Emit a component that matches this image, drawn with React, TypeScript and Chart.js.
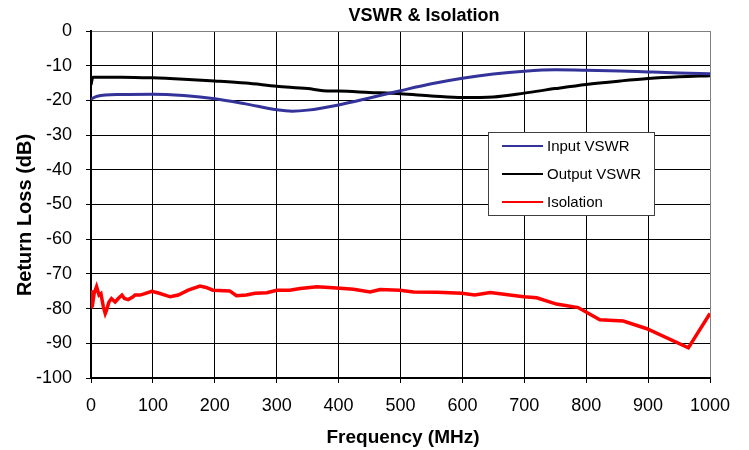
import React, { useEffect, useRef } from "react";
import { Chart, registerables } from "chart.js";

Chart.register(...registerables);

const chartTitle = "VSWR & Isolation";
const xAxisTitle = "Frequency (MHz)";
const yAxisTitle = "Return Loss (dB)";
const seriesNames = ["Input VSWR", "Output VSWR", "Isolation"];

const inputFreq = [0, 10, 50, 100, 150, 200, 250, 300, 325, 350, 400, 450, 500, 550, 600, 650, 700, 750, 800, 855, 900, 950, 1000];
const inputVals = [-19.6, -18.8, -18.3, -18.2, -18.6, -19.5, -21.0, -22.7, -23.1, -22.8, -21.3, -19.3, -17.2, -15.2, -13.6, -12.4, -11.6, -11.2, -11.3, -11.5, -11.8, -12.1, -12.3];

const outputFreq = [0, 3, 50, 100, 150, 200, 250, 300, 350, 375, 400, 450, 500, 550, 600, 650, 700, 750, 800, 855, 900, 950, 1000];
const outputVals = [-15.5, -13.3, -13.3, -13.5, -13.9, -14.4, -15.0, -15.9, -16.6, -17.2, -17.3, -17.7, -18.1, -18.7, -19.2, -19.0, -17.9, -16.6, -15.4, -14.4, -13.7, -13.2, -12.9];

const isoFreq = [0, 1, 2, 5, 9, 13, 16, 20, 23, 25, 29, 33, 39, 44, 50, 54, 60, 68, 71, 79, 87, 98, 109, 128, 141, 157, 176, 186, 197, 224, 235, 251, 265, 284, 300, 321, 338, 365, 391, 424, 451, 467, 499, 521, 559, 599, 620, 645, 699, 720, 752, 787, 822, 860, 898, 965, 1000];
const isoVals = [-79.5, -74.7, -79.5, -75.7, -73.7, -76.1, -75.7, -79.5, -81.4, -80.5, -78.1, -77.1, -78.1, -77.1, -76.1, -77.1, -77.4, -76.6, -76.1, -76.1, -75.7, -75.0, -75.5, -76.6, -76.1, -74.7, -73.5, -73.9, -74.7, -74.9, -76.3, -76.1, -75.6, -75.4, -74.7, -74.7, -74.2, -73.7, -74.0, -74.4, -75.2, -74.5, -74.7, -75.2, -75.3, -75.6, -76.1, -75.4, -76.6, -76.9, -78.7, -79.7, -83.2, -83.6, -85.8, -91.3, -81.4];

const colors = ["#333399", "#000000", "#ff0000"];

const toPoints = (xs: number[], ys: number[]) => xs.map((x, i) => ({ x, y: ys[i] }));

const FONT = "'Liberation Sans', Arial, sans-serif";

const textPlugin = {
  id: "customText",
  afterDraw(chart: any) {
    const ctx = chart.ctx;
    ctx.save();
    ctx.fillStyle = "#000";
    ctx.font = `bold 18px ${FONT}`;
    ctx.textAlign = "center";
    ctx.textBaseline = "middle";
    ctx.fillText(chartTitle, 424, 16);
    ctx.font = `bold 19px ${FONT}`;
    ctx.fillText(xAxisTitle, 403, 438);
    ctx.save();
    ctx.translate(25, 215);
    ctx.rotate(-Math.PI / 2);
    ctx.font = `bold 20px ${FONT}`;
    ctx.fillText(yAxisTitle, 0, 0);
    ctx.restore();
    const lx = 488.5, ly = 132.5, lw = 166, lh = 83;
    ctx.fillStyle = "#ffffff";
    ctx.fillRect(lx, ly, lw, lh);
    ctx.strokeStyle = "#404040";
    ctx.lineWidth = 1;
    ctx.strokeRect(lx, ly, lw, lh);
    const rows = [146, 174, 202];
    ctx.font = `15px ${FONT}`;
    ctx.textAlign = "left";
    seriesNames.forEach((name, i) => {
      ctx.strokeStyle = colors[i];
      ctx.lineWidth = 2;
      ctx.beginPath();
      ctx.moveTo(502, rows[i]);
      ctx.lineTo(543, rows[i]);
      ctx.stroke();
      ctx.fillStyle = "#000";
      ctx.fillText(name, 547, rows[i] + 1);
    });
    ctx.restore();
  },
};

export default function App() {
  const ref = useRef<HTMLCanvasElement | null>(null);
  useEffect(() => {
    document.body.style.margin = "0";
    const canvas = ref.current!;
    const chart = new Chart(canvas, {
      type: "line",
      data: {
        datasets: [
          { label: seriesNames[0], data: toPoints(inputFreq, inputVals), borderColor: colors[0], borderWidth: 3, pointRadius: 0, tension: 0.4, cubicInterpolationMode: "monotone" },
          { label: seriesNames[1], data: toPoints(outputFreq, outputVals), borderColor: colors[1], borderWidth: 3, pointRadius: 0, tension: 0.4, cubicInterpolationMode: "monotone" },
          { label: seriesNames[2], data: toPoints(isoFreq, isoVals), borderColor: colors[2], borderWidth: 3.5, pointRadius: 0, tension: 0 },
        ],
      },
      options: {
        responsive: false,
        animation: false,
        layout: { padding: { top: 31, right: 39, left: 0, bottom: 0 } },
        plugins: { legend: { display: false }, title: { display: false }, tooltip: { enabled: false } },
        scales: {
          x: {
            type: "linear",
            min: 0,
            max: 1000,
            ticks: { stepSize: 100, color: "#000", font: { family: FONT, size: 18 }, padding: 12, maxRotation: 0, callback: (v: any) => String(v) },
            grid: {
              color: (c: any) => (c.tick && c.tick.value === 1000 ? "#808080" : "#000"),
              tickColor: "#000",
              tickLength: 5,
              lineWidth: 1,
            },
            border: { color: "#000", width: 2 },
            afterFit: (s: any) => { s.height = 72; },
          },
          y: {
            type: "linear",
            min: -100,
            max: 0,
            ticks: { stepSize: 10, color: "#000", font: { family: FONT, size: 18 }, padding: 14, callback: (v: any) => String(v) },
            grid: {
              color: (c: any) => (c.tick && c.tick.value === 0 ? "#808080" : "#000"),
              tickColor: "#000",
              tickLength: 5,
              lineWidth: 1,
            },
            border: { color: "#000", width: 2 },
            afterFit: (s: any) => { s.width = 91; },
          },
        },
      },
      plugins: [textPlugin],
    });
    return () => chart.destroy();
  }, []);
  return (
    <div style={{ position: "fixed", left: 0, top: 0, width: 749, height: 450, background: "#fff" }}>
      <canvas ref={ref} width={749} height={450} />
    </div>
  );
}
